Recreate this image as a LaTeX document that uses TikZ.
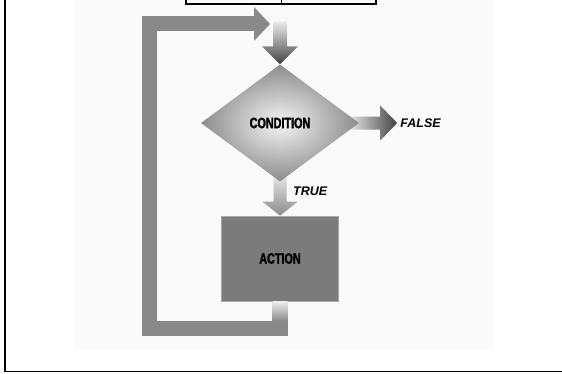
\documentclass[tikz,border=0pt]{standalone}
\usepackage{fontspec}
\setmainfont{Liberation Sans}
\newfontfamily\blockfont[FakeStretch=0.72,FakeBold=1.8]{Liberation Sans Bold}
\usepackage{tikz}
\usetikzlibrary{shapes,calc,positioning}
\usepackage{xcolor}
\definecolor{fcpanel}{RGB}{250,250,250}
\definecolor{fcloop}{RGB}{137,137,137}
\definecolor{fcaction}{RGB}{123,123,123}
\definecolor{fcedge}{RGB}{168,168,168}
\definecolor{fclight}{RGB}{236,236,236}
\definecolor{fcmid}{RGB}{168,168,168}
\definecolor{fcdark}{RGB}{66,66,66}
\definecolor{fcouter}{RGB}{140,140,140}
\tikzstyle{decision} = [diamond, inner sep=0pt, minimum width=158pt, minimum height=117pt, shading=radial, inner color=white!96!black, outer color=fcouter, font=\blockfont\fontsize{15}{16}\selectfont]
\tikzstyle{process} = [rectangle, inner sep=0pt, minimum width=117pt, minimum height=85pt, fill=fcaction, draw=fcedge, line width=0.6pt, font=\blockfont\fontsize{15}{16}\selectfont]
\tikzstyle{branch} = [inner sep=0pt, anchor=west, font=\bfseries\itshape\fontsize{12.5}{14}\selectfont]
\tikzstyle{loopline} = [line width=15pt, draw=fcloop, line join=miter]
\pgfdeclarelayer{back}
\pgfsetlayers{back,main}

\begin{document}
\begin{tikzpicture}[x=1pt,y=1pt]
\useasboundingbox (0,0) rectangle (562,373);

% Frame
\draw[line width=1.8pt] (5,374) -- (5,1.5) -- (563,1.5);
\draw[line width=1.2pt] (186,374) -- (186,369) -- (376,369) -- (376,374);
\draw[line width=1pt] (281,374) -- (281,369);

% Blocks
\node[decision] (cond) at (280,250) {CONDITION};
\node[process] (act) at (280,114.5) {ACTION};
\coordinate (falsetip) at ($(cond.east)+(38,0)$);
\coordinate (loopin) at (254,349);

% Labels
\node[branch] (falselbl) at ($(falsetip)+(3,0)$) {FALSE};
\node[branch] (truelbl) at ($(cond.south)+(13,-10)$) {TRUE};

\begin{pgfonlayer}{back}
% Panel
\fill[fcpanel] (74,24) rectangle (494,373);

% Entry arrow
\shade[top color=fclight, middle color=fcmid, bottom color=fcdark]
  ($(cond.north)+(-7,43)$) -- ($(cond.north)+(7,43)$) -- ($(cond.north)+(7,18)$)
  -- ($(cond.north)+(18,18)$) -- (cond.north) -- ($(cond.north)+(-18,18)$)
  -- ($(cond.north)+(-7,18)$) -- cycle;

% True arrow
\shade[top color=fclight, bottom color=fcouter]
  ($(cond.south)+(-6.5,10)$) -- ($(cond.south)+(6.5,10)$) -- ($(act.north)+(6.5,14)$)
  -- ($(act.north)+(17.5,14)$) -- (act.north) -- ($(act.north)+(-17.5,14)$)
  -- ($(act.north)+(-6.5,14)$) -- cycle;

% False arrow
\shade[left color=fclight, middle color=fcmid, right color=fcdark]
  ($(cond.east)+(-12,6.5)$) -- ($(falsetip)+(-17,6.5)$) -- ($(falsetip)+(-17,17.5)$)
  -- (falsetip) -- ($(falsetip)+(-17,-17.5)$) -- ($(falsetip)+(-17,-6.5)$)
  -- ($(cond.east)+(-12,-6.5)$) -- cycle;
\end{pgfonlayer}

% Loop back
\shade[top color=fclight, bottom color=fcloop] ($(act.south)+(-7.5,0)$) rectangle ($(act.south)+(7.5,-20)$);
\draw[loopline] ($(act.south)+(0,-20)$) |- (149.5,44.5) |- (loopin);
\fill[fcloop] ($(loopin)+(0,17)$) -- ($(loopin)+(16,0)$) -- ($(loopin)+(0,-17)$) -- cycle;
\end{tikzpicture}
\end{document}
